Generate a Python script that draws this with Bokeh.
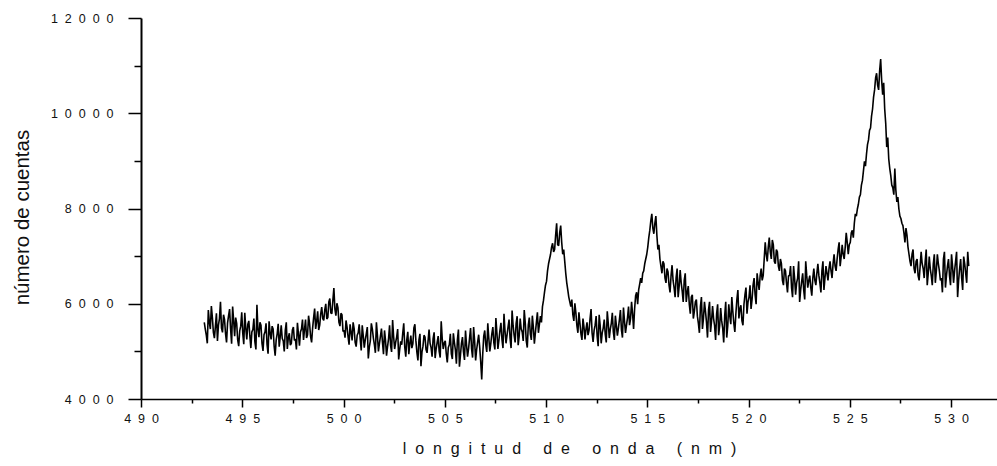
from bokeh.plotting import figure
from bokeh.models import Range1d, FixedTicker, CustomJSTickFormatter
from bokeh.embed import file_html
from bokeh.resources import INLINE

# ---- data, one value every 0.05 nm ----
WL_STEP = 0.05
start_a = 493.10
counts_a = [5620, 5480, 5350, 5180, 5880, 5620, 5480, 5960, 5720, 5410,
            5290, 5540, 5810, 5230, 5560, 5700, 6050, 5500,
            5410, 5780, 5680, 5380, 5200, 5610, 5760, 5900, 5480, 5170,
            5950, 5660, 5330, 5720, 5600, 5250, 5120, 5440, 5540, 5830,
            5390, 5160, 5820, 5500, 5260, 5580, 5650, 5340, 5080, 5420,
            5470, 5700, 5210, 5050, 5990, 5470, 5310, 5620, 5560, 5180,
            5020, 5360, 5420, 5600, 5150, 4960, 5640, 5400, 5260, 5540,
            5480, 5120, 4920, 5250, 5380, 5590, 5110, 5320, 5560, 5280,
            5230, 5010, 5450, 5620, 5060, 5300, 5390, 5140, 5180, 5460,
            5520, 5240, 5270, 5050, 5610, 5380, 5130, 5420, 5480, 5680,
            5250, 5470, 5680, 5290, 5360, 5760, 5590, 5320, 5200, 5500,
            5720, 5910, 5480, 5640, 5850, 5460, 5560, 5800, 5940, 5700,
            5660, 5880, 6010, 5690, 5720, 6050, 6120, 5820, 5800, 6080,
            6340, 5900, 5760, 6020, 5930, 5620, 5540, 5810, 5780, 5430]
start_b = 500.00
counts_b = [5450, 5300, 5660, 5520, 5320, 5150, 5580, 5410, 5240, 5620,
            5490, 5200, 5110, 5350, 5400, 5580, 5270, 5030, 5560, 5340,
            5090, 5250, 5380, 5520, 4860, 5100, 5230, 5600, 5480, 5290,
            5150, 4980, 5620, 5350, 5010, 5180, 5330, 5490, 5200, 4950,
            5450, 5240, 4920, 5110, 5280, 5560, 5130, 5000, 5670, 5320,
            5060, 5200, 5310, 5480, 4840, 5050, 5220, 5150, 5390, 5600,
            5100, 4900, 5260, 5420, 4950, 5180, 5340, 5080, 5170, 5500,
            5580, 5230, 4990, 4820, 5250, 5380, 4700, 5000, 5120, 5350,
            5310, 5050, 4980, 5220, 5470, 5180, 5090, 4900, 5280, 5410,
            4870, 5060, 5200, 5330, 5010, 4880, 5640, 5280, 5060, 5190,
            5230, 4960, 4780, 5090, 5150, 5380, 4960, 4850, 5390, 5200,
            5040, 4750, 5260, 5470, 4690, 4930, 5180, 5310, 5000, 4830,
            5450, 5150, 4900, 5060, 5290, 5500, 5060, 4880, 5520, 5230,
            4820, 5050, 5210, 5360, 5100, 4800, 4420, 4950, 5330, 5450,
            5150, 5000, 5600, 5290, 5010, 5180, 5380, 5520, 5190, 5050,
            5710, 5400, 5060, 5250, 5450, 5610, 5260, 5080, 5800, 5440,
            5180, 5350, 5520, 5680, 5290, 5080, 5870, 5560, 5350, 5200,
            5600, 5750, 5140, 5330, 5700, 5480, 5420, 5230, 5880, 5610,
            5230, 5090, 5560, 5720, 5380, 5250, 5760, 5520, 5170, 5400,
            5620, 5830, 5400, 5580, 5750, 5620, 5950, 6080, 6250, 6400]
start_c = 510.00
counts_c = [6480, 6700, 6850, 6950, 7050, 7200, 7280, 7100, 7150, 7450,
            7700, 7250, 7230, 7500, 7650, 7300, 7050, 7150, 6900, 6650,
            6450, 6300, 6150, 6050, 5950, 6100, 5780, 5650, 6020, 5820,
            5550, 5400, 5830, 5600, 5380, 5250, 5700, 5520, 5260, 5480,
            5620, 5350, 5450, 5700, 5900, 5400, 5210, 5450, 5560, 5750,
            5330, 5120, 5780, 5550, 5180, 5400, 5500, 5680, 5370, 5200,
            5850, 5600, 5290, 5480, 5600, 5820, 5420, 5250, 5760, 5550,
            5340, 5500, 5680, 5880, 5460, 5300, 5930, 5650, 5400, 5560,
            5720, 5950, 5560, 5700, 6050, 5800, 5480, 5900, 6180, 6250,
            6000, 6300, 6420, 6550, 6450, 6650, 6700, 6850, 6950, 7050,
            7200, 7400, 7550, 7750, 7900, 7600, 7480, 7700, 7850, 7450,
            7150, 7250, 6950, 6800, 6650, 6900, 6850, 6550, 6450, 6750,
            6680, 6400, 6250, 6600, 6820, 6500, 6350, 6150, 6560, 6750,
            6150, 6380, 6720, 6450, 6280, 6050, 6500, 6650, 6050, 6250,
            6380, 6000, 5800, 6150, 6200, 5700, 5850, 6050, 6100, 5750,
            5600, 5400, 5950, 6150, 5480, 5700, 6050, 5850, 5620, 5300,
            5880, 6050, 5420, 5650, 5960, 5700, 5550, 5250, 5800, 6000,
            5350, 5550, 5920, 5650, 5500, 5200, 5760, 6050, 5300, 5550,
            6000, 5750, 5580, 6150, 5850, 5600, 5420, 5800, 6100, 6300,
            5700, 5900, 5980, 5650, 5560, 6000, 6200, 6350, 5800, 6050]
start_d = 520.00
counts_d = [6150, 6400, 5900, 6100, 6400, 6550, 6200, 6000, 6650, 6450,
            6300, 6600, 6750, 6500, 6600, 6950, 7300, 7050, 6900, 7200,
            7400, 7100, 6950, 7350, 7250, 6900, 6850, 7150, 7100, 6800,
            6700, 6950, 6850, 6500, 6400, 6750, 6700, 6450, 6250, 6600,
            6600, 6800, 6350, 6150, 6800, 6550, 6200, 6450, 6550, 6900,
            6050, 6300, 6480, 6650, 6300, 6100, 6900, 6600, 6350, 6500,
            6600, 6350, 6180, 6550, 6750, 6500, 6400, 6650, 6850, 6600,
            6450, 6250, 6700, 6900, 6300, 6550, 6800, 6650, 6500, 6750,
            6900, 6700, 6550, 6850, 7050, 6800, 6700, 6950, 7150, 7300,
            6800, 7000, 7250, 7050, 6950, 7200, 7500, 7300, 7050, 7250,
            7300, 7500, 7550, 7400, 7700, 7900, 7850, 8000, 8100, 8250,
            8300, 8500, 8600, 8800, 9000, 8900, 9150, 9350, 9450, 9650,
            9700, 9950, 10100, 10350, 10500, 10750, 10850, 10600, 10500, 10900,
            11150, 10700, 10400, 10650, 10100, 9800, 9300, 9500, 9050, 8850,
            8700, 8500, 8450, 8300, 8850, 8400, 8150, 8250, 8000, 7850,
            7800, 7700, 7650, 7500, 7300, 7600, 7450, 7200, 7050, 6900,
            6800, 7050, 7150, 6750, 6650, 6900, 6950, 6600, 6500, 6800,
            7100, 6850, 6750, 6550, 6900, 7150, 6400, 6650, 7000, 6750,
            6600, 6400, 6850, 7050, 6450, 6700, 7050, 6850, 6700, 6500,
            6550, 6250, 6950, 7100, 6350, 6600, 6800, 6950, 6600, 6400,
            7050, 6800, 6450, 6700, 6900, 7100, 6150, 6500, 6750, 6950,
            6550, 6300, 7000, 6850, 6650, 6450, 7100, 6800]

x_major = [490, 495, 500, 505, 510, 515, 520, 525, 530]
x_minor = [492.5, 497.5, 502.5, 507.5, 512.5, 517.5, 522.5, 527.5]
y_major = [4000, 6000, 8000, 10000, 12000]
y_minor = [5000, 7000, 9000, 11000]

x_label = "longitud de onda (nm)"
y_label = "número de cuentas"

wavelength = []
counts = []
for start, vals in [(start_a, counts_a), (start_b, counts_b),
                    (start_c, counts_c), (start_d, counts_d)]:
    wavelength += [round(start + WL_STEP * i, 3) for i in range(len(vals))]
    counts += vals

# ---- figure ----
p = figure(width=997, height=466, output_backend="svg", toolbar_location=None,
           x_range=Range1d(490, 532.27), y_range=Range1d(4000, 12000),
           min_border_left=141, min_border_right=0, min_border_top=18,
           min_border_bottom=67)
p.outline_line_color = None
p.xgrid.visible = False
p.ygrid.visible = False
p.background_fill_color = "white"
p.border_fill_color = "white"

p.line(wavelength, counts, color="black", line_width=1.6)

SEP = "\u00a0\u00a0"
fmt = CustomJSTickFormatter(code="return tick.toFixed(0).split('').join('\\u00a0\\u00a0');")

for ax in (p.xaxis[0], p.yaxis[0]):
    ax.formatter = fmt
    ax.axis_line_color = "black"
    ax.major_tick_line_color = "black"
    ax.minor_tick_line_color = "black"
    ax.major_tick_line_width = 1.5
    ax.minor_tick_line_width = 1.5
    ax.major_tick_in = 0
    ax.minor_tick_in = 0
    ax.major_label_text_font = "Liberation Sans"
    ax.major_label_text_font_size = "12.5px"
    ax.major_label_text_color = "#111111"
    ax.axis_label_text_font = "Liberation Sans"
    ax.axis_label_text_font_style = "normal"
    ax.axis_label_text_color = "#111111"

p.xaxis.ticker = FixedTicker(ticks=x_major, minor_ticks=x_minor)
p.yaxis.ticker = FixedTicker(ticks=y_major, minor_ticks=y_minor)

p.xaxis.axis_line_width = 1.5
p.yaxis.axis_line_width = 2
p.xaxis.major_tick_out = 8
p.xaxis.minor_tick_out = 4
p.yaxis.major_tick_out = 13
p.yaxis.minor_tick_out = 7
p.xaxis.major_label_standoff = 4
p.yaxis.major_label_standoff = 15

p.xaxis.axis_label = SEP.join(list(x_label))
p.xaxis.axis_label_text_font_size = "16px"
p.xaxis.axis_label_standoff = 11
p.yaxis.axis_label = y_label + "\u00a0\u00a0\u00a0"
p.yaxis.axis_label_text_font_size = "20.5px"
p.yaxis.axis_label_standoff = 15

open("out.html", "w").write(file_html(p, INLINE))
